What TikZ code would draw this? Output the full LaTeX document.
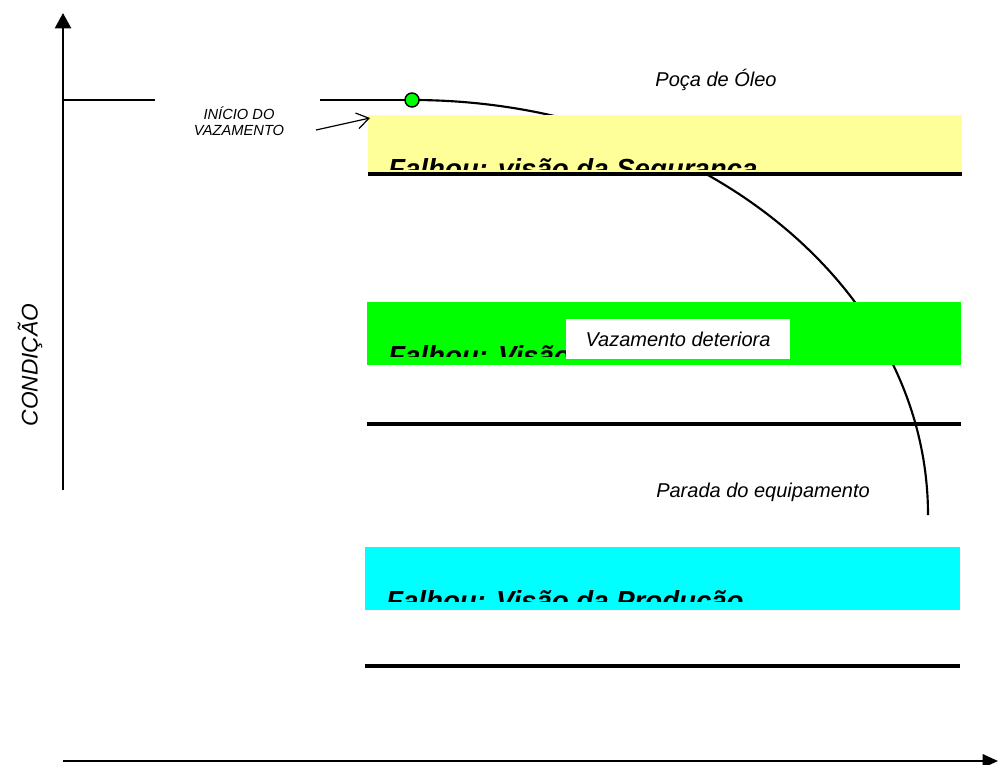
\documentclass[tikz,border=0pt]{standalone}
\usepackage{fontspec}
\setmainfont{Liberation Sans}
\usetikzlibrary{arrows.meta}
\definecolor{bandyellow}{HTML}{FFFF99}
\definecolor{bandgreen}{HTML}{00FF00}
\definecolor{bandcyan}{HTML}{00FFFF}
\definecolor{dotgreen}{HTML}{00FF00}
\begin{document}
\begin{tikzpicture}[x=0.75pt,y=-0.75pt,
  axis/.style={line width=1.8pt},
  rule/.style={line width=2.6pt},
  bandtitle/.style={anchor=base west, inner sep=0pt,
    font=\fontsize{20.7}{24}\selectfont\bfseries\itshape},
  note/.style={inner sep=0pt, font=\fontsize{15}{18}\selectfont\itshape},
]
\useasboundingbox (0,0) rectangle (998,764);

% axes
\coordinate (ytop) at (63,13);
\coordinate (ybot) at (63,490);
\coordinate (xorg) at (63,761);
\coordinate (xend) at (998,761);
\draw[axis,-{Triangle[length=11.5pt,width=12pt]}] (ybot) -- (ytop);
\draw[axis,-{Triangle[length=11.5pt,width=10pt]}] (xorg) -- (xend);

% initial condition level
\coordinate (lvlA) at (63,100);
\coordinate (lvlB) at (155,100);
\coordinate (lvlC) at (320,100);
\coordinate (leakpt) at (412,100);
\coordinate (crvend) at (928,515);
\draw[line width=1.2pt] (lvlA) -- (lvlB);
\draw[line width=1.2pt] (lvlC) -- (leakpt);

% degradation curve
\draw[line width=1.6pt] (leakpt) .. controls (697,100) and (928,286) .. (crvend);

% bands
\fill[bandyellow] (368,115) rectangle (962,175);
\begin{scope}
  \clip (368,115) rectangle (962,169);
  \node[bandtitle] (segtxt) at (388,178) {Falhou: visão da Segurança};
\end{scope}
\coordinate (segL) at (368,174);
\coordinate (segR) at (962,174);
\draw[rule] (segL) -- (segR);

\fill[bandgreen] (367,302) rectangle (961,365);
\begin{scope}
  \clip (367,302) rectangle (566,356);
  \node[bandtitle] (mnttxt) at (388,365) {Falhou: Visão};
\end{scope}
\coordinate (mntL) at (367,424);
\coordinate (mntR) at (961,424);
\draw[rule] (mntL) -- (mntR);

\fill[bandcyan] (365,547) rectangle (960,610);
\begin{scope}
  \clip (365,547) rectangle (960,601);
  \node[bandtitle] (prdtxt) at (386,610) {Falhou: Visão da Produção};
\end{scope}
\coordinate (prdL) at (365,666);
\coordinate (prdR) at (960,666);
\draw[rule] (prdL) -- (prdR);

% start of the leak
\node[circle, fill=dotgreen, draw, line width=1.1pt, inner sep=0pt,
      minimum size=10.5pt] (dot) at (leakpt) {};
\node[align=center, inner sep=0pt,
      font=\fontsize{11}{12}\selectfont\itshape] (start) at (239,121)
      {INÍCIO DO\\VAZAMENTO};
\coordinate (arrfrom) at (316,130);
\coordinate (arrto) at (370,118);
\draw[line width=0.9pt, -{Straight Barb[length=9pt,width=12pt]}] (arrfrom) -- (arrto);

% labels
\node[note, fill=white, minimum width=168pt, minimum height=30pt]
      (leak) at (678,339) {Vazamento deteriora};
\node[note] (oil) at (716,80) {Poça de Óleo};
\node[note] (stop) at (763,492) {Parada do equipamento};
\node[rotate=90, inner sep=0pt, font=\fontsize{17}{20}\selectfont\itshape]
      (cond) at (30,365) {CONDIÇÃO};
\end{tikzpicture}
\end{document}
